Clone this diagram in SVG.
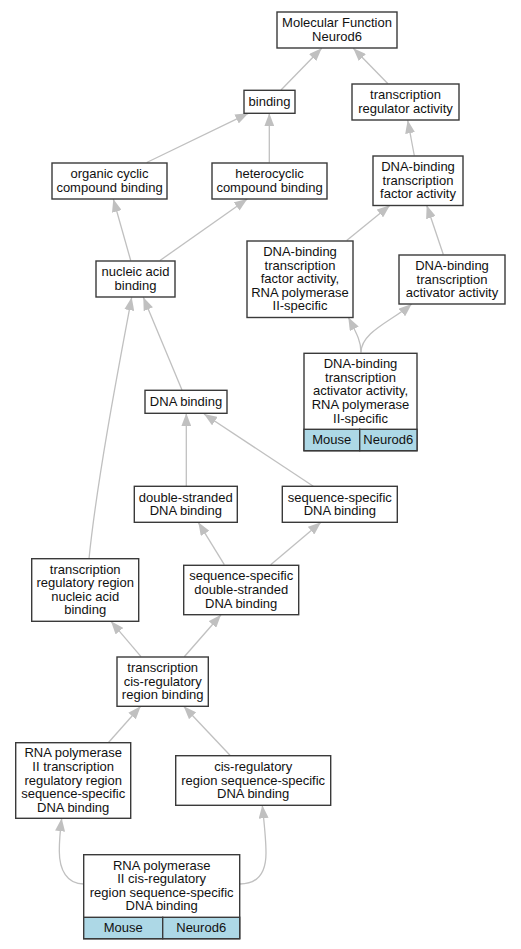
<svg xmlns="http://www.w3.org/2000/svg" width="521" height="949" viewBox="0 0 521 949">
<style>
.n rect{fill:#ffffff;stroke:#3a3a3a;stroke-width:1.4}
.n rect.c{fill:#add8e6}
text{font-family:"Liberation Sans",Arial,sans-serif;font-size:13px;fill:#111;text-anchor:middle}
.e path{fill:none;stroke:#c0c0c0;stroke-width:1.3;marker-end:url(#ah)}
</style>
<defs>
<marker id="ah" markerUnits="userSpaceOnUse" markerWidth="13" markerHeight="10" viewBox="0 0 13 10" refX="13" refY="5" orient="auto">
<path d="M0,0 L13,5 L0,10 z" fill="#c0c0c0"/>
</marker>
</defs>
<rect x="0" y="0" width="521" height="949" fill="#ffffff"/>
<g id="connectors" class="e">
<path d="M281,90 L321.7,48.3"/>
<path d="M387.7,83.5 L353.3,48.3"/>
<path d="M146.7,162.5 L248.3,113.3"/>
<path d="M269.3,162.5 L269.3,113.3"/>
<path d="M414.3,155.5 L407.7,120.3"/>
<path d="M130.7,260.5 L113.3,199"/>
<path d="M160,260.5 L247.3,199"/>
<path d="M346.7,240.5 L390,205.3"/>
<path d="M443.3,254.5 L426.7,205.3"/>
<path d="M361,352.5 C361,342 358,336 348.3,317.3"/>
<path d="M361,352.5 C361,332 392,321 411.7,304"/>
<path d="M182,390 L143.3,297.3"/>
<path d="M89,558.7 C97,480 118,370 131.7,297.3"/>
<path d="M186.3,486.3 L186.3,413.3"/>
<path d="M313.3,486.3 L204,414"/>
<path d="M224.3,564.7 L198.3,522.3"/>
<path d="M270.7,564.7 L321,522.3"/>
<path d="M141,656.7 L111,621.3"/>
<path d="M184.3,656.7 L221,614.7"/>
<path d="M108.3,742.7 L140.7,706.3"/>
<path d="M230,755.3 L183.7,706.3"/>
<path d="M83.7,884 C67,884 59.3,870 59.3,851 C59.3,838 60.5,828 61.7,818.3"/>
<path d="M239.7,884 C258,884 266,872 266,853 C266,838 264,822 262.3,805.3"/>
</g>
<g id="n1" class="n"><rect x="277" y="12" width="120" height="36"/><text x="337" y="27.2">Molecular Function</text><text x="337" y="40.8">Neurod6</text></g>
<g id="n2" class="n"><rect x="244" y="90.3" width="51" height="23"/><text x="269.5" y="105.8">binding</text></g>
<g id="n3" class="n"><rect x="352" y="84" width="107" height="36"/><text x="405.5" y="99.2">transcription</text><text x="405.5" y="112.8">regulator activity</text></g>
<g id="n4" class="n"><rect x="52" y="163" width="115" height="36"/><text x="109.5" y="178.2">organic cyclic</text><text x="109.5" y="191.8">compound binding</text></g>
<g id="n5" class="n"><rect x="212" y="163" width="115" height="36"/><text x="269.5" y="178.2">heterocyclic</text><text x="269.5" y="191.8">compound binding</text></g>
<g id="n6" class="n"><rect x="373" y="156" width="90" height="49.5"/><text x="418" y="171.1">DNA-binding</text><text x="418" y="184.7">transcription</text><text x="418" y="198.3">factor activity</text></g>
<g id="n7" class="n"><rect x="96" y="261" width="79" height="36"/><text x="135.5" y="276.2">nucleic acid</text><text x="135.5" y="289.8">binding</text></g>
<g id="n8" class="n"><rect x="247" y="241" width="106" height="76.5"/><text x="300" y="256">DNA-binding</text><text x="300" y="269.6">transcription</text><text x="300" y="283.2">factor activity,</text><text x="300" y="296.8">RNA polymerase</text><text x="300" y="310.4">II-specific</text></g>
<g id="n9" class="n"><rect x="399" y="255" width="106" height="49"/><text x="452" y="269.9">DNA-binding</text><text x="452" y="283.5">transcription</text><text x="452" y="297.1">activator activity</text></g>
<g id="n10" class="n"><rect x="145" y="390.3" width="82" height="23"/><text x="186" y="405.8">DNA binding</text></g>
<g id="n11" class="n"><rect x="304" y="353.3" width="113" height="97.4"/><rect class="c" x="304" y="429.3" width="55.7" height="21.4"/><rect class="c" x="359.7" y="429.3" width="57.3" height="21.4"/><text x="360.5" y="368.1">DNA-binding</text><text x="360.5" y="381.7">transcription</text><text x="360.5" y="395.3">activator activity,</text><text x="360.5" y="408.9">RNA polymerase</text><text x="360.5" y="422.5">II-specific</text><text x="331.8" y="444">Mouse</text><text x="388.3" y="444">Neurod6</text></g>
<g id="n12" class="n"><rect x="134.3" y="486.3" width="103" height="36"/><text x="185.8" y="501.5">double-stranded</text><text x="185.8" y="515.1">DNA binding</text></g>
<g id="n13" class="n"><rect x="282.3" y="486.3" width="115" height="36"/><text x="339.8" y="501.5">sequence-specific</text><text x="339.8" y="515.1">DNA binding</text></g>
<g id="n14" class="n"><rect x="31.7" y="558.7" width="107" height="62.6"/><text x="85.2" y="573.6">transcription</text><text x="85.2" y="587.2">regulatory region</text><text x="85.2" y="600.8">nucleic acid</text><text x="85.2" y="614.4">binding</text></g>
<g id="n15" class="n"><rect x="183.7" y="565.3" width="115" height="49.4"/><text x="241.2" y="580.4">sequence-specific</text><text x="241.2" y="594">double-stranded</text><text x="241.2" y="607.6">DNA binding</text></g>
<g id="n16" class="n"><rect x="117" y="657" width="91.3" height="49.3"/><text x="162.7" y="672.1">transcription</text><text x="162.7" y="685.7">cis-regulatory</text><text x="162.7" y="699.3">region binding</text></g>
<g id="n17" class="n"><rect x="15.7" y="742.7" width="115" height="75.6"/><text x="73.2" y="757.3">RNA polymerase</text><text x="73.2" y="770.9">II transcription</text><text x="73.2" y="784.5">regulatory region</text><text x="73.2" y="798.1">sequence-specific</text><text x="73.2" y="811.7">DNA binding</text></g>
<g id="n18" class="n"><rect x="175.7" y="755.7" width="155" height="49.6"/><text x="253.2" y="770.9">cis-regulatory</text><text x="253.2" y="784.5">region sequence-specific</text><text x="253.2" y="798.1">DNA binding</text></g>
<g id="n19" class="n"><rect x="83.7" y="854.7" width="156" height="84"/><rect class="c" x="83.7" y="917.3" width="79" height="21.4"/><rect class="c" x="162.7" y="917.3" width="77" height="21.4"/><text x="161.7" y="869.6">RNA polymerase</text><text x="161.7" y="883.2">II cis-regulatory</text><text x="161.7" y="896.8">region sequence-specific</text><text x="161.7" y="910.4">DNA binding</text><text x="123.2" y="932">Mouse</text><text x="201.2" y="932">Neurod6</text></g>
</svg>
